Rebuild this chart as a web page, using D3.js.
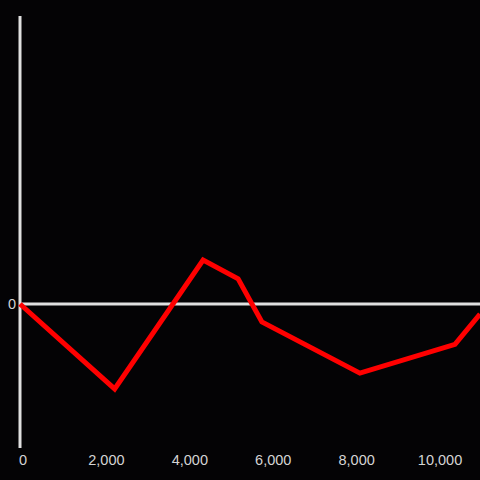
<!DOCTYPE html>
<html><head><meta charset="utf-8">
<script src="https://cdn.jsdelivr.net/npm/d3@7"></script>
<style>html,body{margin:0;padding:0;background:#040305;}</style>
</head><body>
<svg id="c" width="480" height="480"></svg>
<script>
const xValues = [-60, 2210, 4330, 5170, 5740, 8090, 10370, 10970];
const yValues = [0, -59, 30.5, 17.5, -12.5, -48, -28, -7];
const xTicks = [0, 2000, 4000, 6000, 8000, 10000];
const yTicks = [0];

const svg = d3.select("#c");
svg.append("rect").attr("width",480).attr("height",480).attr("fill","#040305");
const x = d3.scaleLinear().domain([-60, 10970]).range([20, 480]);
const y = d3.scaleLinear().domain([-100, 200]).range([448, 16]);

// x tick labels
const xa = svg.append("g").attr("transform","translate(0,448)")
  .call(d3.axisBottom(x).tickValues(xTicks).tickSize(0).tickPadding(7).tickFormat(d3.format(",")));
xa.select(".domain").remove();
xa.selectAll("text").attr("fill","#d4d4d4").style("font-family","Liberation Sans, Arial, sans-serif").style("font-size","14.5px");

// y axis
const ya = svg.append("g").attr("transform","translate(20,0)")
  .call(d3.axisLeft(y).tickValues(yTicks).tickSize(0).tickPadding(4));
ya.select(".domain").attr("stroke","#e0e0e0").attr("stroke-width",3).attr("d","M0,16V448");
ya.selectAll("text").attr("fill","#d4d4d4").style("font-family","Liberation Sans, Arial, sans-serif").style("font-size","14.5px");

// zero line
svg.append("line").attr("x1",x(-60)).attr("x2",480).attr("y1",y(0)).attr("y2",y(0))
  .attr("stroke","#e0e0e0").attr("stroke-width",3);

const data = xValues.map((v,i)=>[v,yValues[i]]);
svg.append("path").datum(data)
  .attr("fill","none").attr("stroke","#ff0000").attr("stroke-width",5)
  .attr("d", d3.line().x(d=>x(d[0])).y(d=>y(d[1])));
</script>
</body></html>
